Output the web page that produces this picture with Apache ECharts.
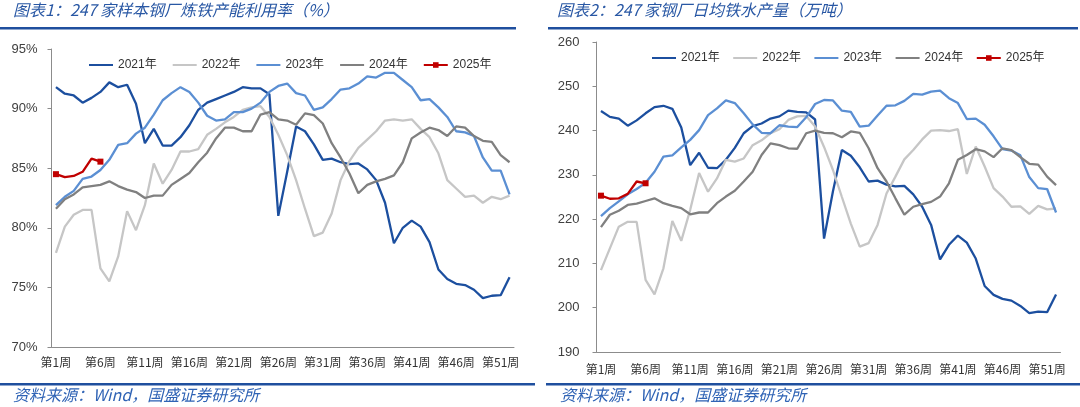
<!DOCTYPE html>
<html><head><meta charset="utf-8">
<script src="https://cdn.jsdelivr.net/npm/echarts@6/dist/echarts.min.js"></script>
<style>html,body{margin:0;padding:0;background:#fff}#c{width:1080px;height:407px}</style>
</head><body><div id="c"></div>
<script>
const weeks = ['第1周','第2周','第3周','第4周','第5周','第6周','第7周','第8周','第9周','第10周','第11周','第12周','第13周','第14周','第15周','第16周','第17周','第18周','第19周','第20周','第21周','第22周','第23周','第24周','第25周','第26周','第27周','第28周','第29周','第30周','第31周','第32周','第33周','第34周','第35周','第36周','第37周','第38周','第39周','第40周','第41周','第42周','第43周','第44周','第45周','第46周','第47周','第48周','第49周','第50周','第51周','第52周'];
const seriesNames = ['2021年','2022年','2023年','2024年','2025年'];

// 图表1：产能利用率（%）
const util2021 = [91.8,91.25,91.1,90.5,90.9,91.4,92.2,91.8,92.0,90.4,87.1,88.3,86.9,86.9,87.6,88.6,89.9,90.5,90.8,91.1,91.4,91.8,91.7,91.7,91.2,81.0,84.7,88.5,88.1,87.0,85.7,85.8,85.5,85.35,85.4,84.9,84.0,82.1,78.7,80.0,80.6,80.1,78.8,76.5,75.7,75.3,75.2,74.8,74.1,74.3,74.35,75.85];
const util2022 = [77.9,80.1,81.1,81.5,81.5,76.6,75.5,77.6,81.4,79.8,81.9,85.4,83.7,84.85,86.4,86.4,86.6,87.8,88.3,88.85,89.3,89.9,90.1,90.2,89.3,87.8,86.1,84.0,81.6,79.3,79.6,81.2,84.0,85.6,86.7,87.4,88.1,89.0,89.1,89.0,89.1,88.3,87.6,86.25,84.0,83.3,82.6,82.7,82.1,82.6,82.4,82.7];
const util2023 = [81.9,82.6,83.1,84.1,84.3,84.85,85.7,86.95,87.1,87.9,88.4,89.5,90.7,91.3,91.8,91.4,90.5,89.4,89.0,89.1,89.7,89.7,90.0,90.5,91.4,91.9,92.1,91.3,91.1,89.9,90.1,90.8,91.6,91.7,92.1,92.7,92.6,93.0,93.0,92.4,91.8,90.7,90.8,90.1,89.3,88.1,88.0,87.7,85.9,84.8,84.8,82.8];
const util2024 = [81.6,82.4,82.8,83.4,83.5,83.6,83.9,83.5,83.2,83.0,82.5,82.7,82.7,83.6,84.1,84.6,85.5,86.3,87.5,88.4,88.4,88.1,88.1,89.5,89.7,89.1,89.0,88.65,89.6,89.45,88.75,87.1,85.9,84.55,82.9,83.6,83.9,84.1,84.4,85.5,87.5,88.0,88.4,88.2,87.7,88.5,88.4,87.7,87.3,87.2,86.1,85.5];
const util2025 = [84.5,84.25,84.35,84.7,85.8,85.55];
const utilTicks = {min:70, max:95, interval:5};

// 图表2：日均铁水产量（万吨）
const iron2021 = [244.4,243.1,242.7,241.1,242.3,243.9,245.3,245.6,244.9,240.7,232.2,235.0,231.6,231.5,233.4,236.1,239.4,241.0,241.6,242.7,243.2,244.5,244.2,244.1,242.5,215.6,226.3,235.6,234.3,231.7,228.5,228.7,227.8,227.4,227.5,225.6,222.8,218.7,210.9,214.2,216.3,214.7,211.1,204.9,202.9,202.0,201.6,200.4,198.8,199.1,199.0,203.0];
const iron2022 = [208.5,213.4,218.3,219.4,219.4,206.3,203.0,208.9,219.6,215.1,222.1,230.4,226.2,229.2,233.4,233.0,233.7,236.7,237.8,239.4,240.3,242.4,243.2,243.3,240.9,236.3,231.1,225.0,219.0,213.8,214.6,218.7,225.8,229.6,233.5,235.6,238.0,240.0,240.1,239.9,240.3,230.2,236.4,231.9,227.0,225.1,222.8,222.9,221.2,223.0,222.2,222.4];
const iron2023 = [220.7,222.5,224.0,225.6,226.8,228.2,230.7,234.1,234.4,236.2,237.9,240.1,243.5,245.0,246.8,246.2,243.9,241.4,239.5,239.4,241.2,240.9,240.8,243.0,246.0,246.9,246.8,244.5,244.2,240.9,241.1,243.4,245.6,245.7,246.7,248.3,248.1,248.8,249.0,247.3,246.2,242.6,242.7,241.3,238.7,235.8,235.5,234.4,229.5,227.0,226.8,221.5];
const iron2024 = [218.2,221.0,221.9,223.2,223.5,224.1,224.7,223.6,223.0,222.5,221.1,221.5,221.5,223.6,225.1,226.4,228.5,230.7,234.5,237.1,236.7,236.0,235.9,239.4,240.0,239.5,239.4,238.5,239.8,239.5,236.0,231.5,228.5,224.7,221.0,222.8,223.4,223.9,225.1,228.1,233.4,234.5,235.8,235.3,234.0,236.0,235.6,234.0,232.5,232.3,229.6,227.7];
const iron2025 = [225.3,224.6,224.7,225.7,228.5,228.1];
const ironTicks = {min:190, max:260, interval:10};

const colors = ['#1c4f9f','#c6c6c6','#5b8fd3','#808080','#c00000'];
const latin = '"Liberation Sans", "Noto Sans CJK SC", sans-serif';
const cjk = '"Noto Sans CJK SC", sans-serif';
const axisColor = '#8c8c8c';

function mkSeries(name, data, idx, color, isLast) {
  return {
    name: name, type: 'line', data: data,
    xAxisIndex: idx, yAxisIndex: idx,
    color: color,
    lineStyle: {width: 2.3, color: color},
    symbol: isLast ? 'rect' : 'none',
    symbolSize: isLast ? 6 : 0,
    itemStyle: {color: color},
    showSymbol: !!isLast,
    z: isLast ? 5 : 2
  };
}

function mkX(idx) {
  return {
    type: 'category', gridIndex: idx, data: weeks, boundaryGap: true,
    axisLine: {lineStyle: {color: axisColor, width: 1}},
    axisTick: {interval: 4, length: 5, lineStyle: {color: axisColor}},
    axisLabel: {interval: 4, margin: idx === 0 ? 9 : 11, fontSize: 12, color: '#333', fontFamily: cjk}
  };
}
function mkY(idx, t, fmt, margin) {
  return {
    type: 'value', gridIndex: idx, min: t.min, max: t.max, interval: t.interval,
    splitLine: {show: false},
    axisLine: {show: true, lineStyle: {color: axisColor, width: 1}},
    axisTick: {show: true, length: 4, lineStyle: {color: axisColor}},
    axisLabel: {formatter: fmt, margin: margin, fontSize: 13, color: '#404040', fontFamily: latin}
  };
}

const series = [];
const leftData = [util2021, util2022, util2023, util2024, util2025];
const rightData = [iron2021, iron2022, iron2023, iron2024, iron2025];
seriesNames.forEach((n, i) => series.push(mkSeries(n, leftData[i], 0, colors[i], i === 4)));
seriesNames.forEach((n, i) => series.push(mkSeries(n, rightData[i], 1, colors[i], i === 4)));

const legendData = seriesNames.map((n, i) => i === 4
  ? {name: n}
  : {name: n, itemStyle: {opacity: 0, borderWidth: 0}});

function mkLegend(left, top, gap) {
  return {left: left, top: top, itemWidth: 24, itemHeight: 7, itemGap: gap, data: legendData,
    textStyle: {fontSize: 12, color: '#333', fontFamily: latin}};
}

const titleColor = '#2857a4';
const option = {
  animation: false,
  backgroundColor: '#fff',
  grid: [
    {left: 51.5, top: 49, width: 462.5, height: 298},
    {left: 596.5, top: 42, width: 464, height: 310}
  ],
  xAxis: [mkX(0), mkX(1)],
  yAxis: [mkY(0, utilTicks, '{value}%', 14), mkY(1, ironTicks, '{value}', 17)],
  legend: [mkLegend(83, 54, 15), mkLegend(646, 47, 12.5)],
  graphic: [
    {type: 'text', left: 13, top: 2, style: {text: '图表1：247 家样本钢厂炼铁产能利用率（%）', fill: titleColor, font: 'italic 16px "Noto Sans CJK SC"'}},
    {type: 'text', left: 557, top: 2, style: {text: '图表2：247 家钢厂日均铁水产量（万吨）', fill: titleColor, font: 'italic 16px "Noto Sans CJK SC"'}},
    {type: 'rect', shape: {x: 0, y: 27, width: 516, height: 2.5}, style: {fill: '#1f4f9e'}},
    {type: 'rect', shape: {x: 548, y: 27, width: 530, height: 2.5}, style: {fill: '#1f4f9e'}},
    {type: 'rect', shape: {x: 0, y: 383, width: 535, height: 2.5}, style: {fill: '#1f4f9e'}},
    {type: 'rect', shape: {x: 546, y: 383, width: 534, height: 2.5}, style: {fill: '#1f4f9e'}},
    {type: 'text', left: 13, top: 387, style: {text: '资料来源：Wind，国盛证券研究所', fill: '#2f63b5', font: 'italic 16px "Noto Sans CJK SC"'}},
    {type: 'text', left: 560, top: 387, style: {text: '资料来源：Wind，国盛证券研究所', fill: '#2f63b5', font: 'italic 16px "Noto Sans CJK SC"'}}
  ],
  series: series
};
const chart = echarts.init(document.getElementById('c'), null, {renderer: 'canvas'});
chart.setOption(option);
</script>
</body></html>
